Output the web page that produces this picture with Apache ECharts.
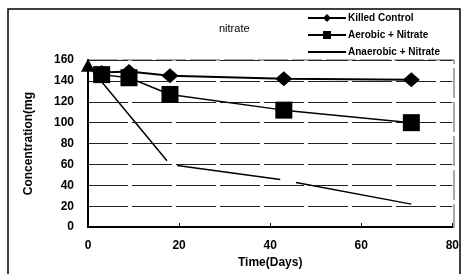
<!DOCTYPE html>
<html>
<head>
<meta charset="utf-8">
<script src="https://cdn.jsdelivr.net/npm/echarts@6/dist/echarts.min.js"></script>
<style>
  html, body { margin: 0; padding: 0; background: #fff; }
  #chart { width: 462px; height: 274px; }
</style>
</head>
<body>
<div id="chart"></div>
<script>
// days and nitrate concentration
const killedDays = [3, 9, 18, 43, 71];
const killedValues = [148, 149, 145, 142, 141];
const aerobicDays = [3, 9, 18, 43, 71];
const aerobicValues = [146, 143, 127, 112, 100];
const anaerobicDays = [0, 18, 43, 71];
const anaerobicValues = [155, 60, 45, 22];
const xTicks = [0, 20, 40, 60, 80];
const yTicks = [0, 20, 40, 60, 80, 100, 120, 140, 160];

const pairs = (xs, ys) => xs.map((x, i) => [x, ys[i]]);
const font = 'Liberation Sans, Arial, sans-serif';

// only the starting point of the anaerobic run carries a marker
const anaerobicData = pairs(anaerobicDays, anaerobicValues).map((p, i) =>
  i === 0 ? { value: p, symbol: 'triangle', symbolSize: [14, 13] } : { value: p, symbol: 'none' });

const chart = echarts.init(document.getElementById('chart'));
chart.setOption({
  animation: false,
  title: {
    text: 'nitrate',
    left: 214,
    top: 18,
    textStyle: { fontFamily: font, fontWeight: 'normal', fontSize: 11, color: '#000' }
  },
  legend: {
    orient: 'vertical',
    left: 302,
    top: 8,
    itemWidth: 38,
    itemHeight: 10,
    itemGap: 7,
    textStyle: { fontFamily: font, fontWeight: 'bold', fontSize: 10, color: '#000', padding: [0, 0, 0, -3] },
    data: [
      'Killed Control',
      'Aerobic + Nitrate',
      { name: 'Anaerobic + Nitrate', itemStyle: { opacity: 0 } }
    ]
  },
  grid: { left: 88, right: 8, top: 60, bottom: 46 },
  xAxis: {
    type: 'value',
    min: xTicks[0],
    max: xTicks[xTicks.length - 1],
    interval: 20,
    name: 'Time(Days)',
    nameLocation: 'middle',
    nameGap: 28,
    nameTextStyle: { fontFamily: font, fontWeight: 'bold', fontSize: 12, color: '#000' },
    axisLine: { lineStyle: { color: '#000', width: 2 } },
    axisTick: { inside: true, length: 4, lineStyle: { color: '#000' } },
    axisLabel: { fontFamily: font, fontWeight: 'bold', fontSize: 12, color: '#000', margin: 13 },
    splitLine: { show: false }
  },
  yAxis: {
    type: 'value',
    min: yTicks[0],
    max: yTicks[yTicks.length - 1],
    interval: 20,
    name: 'Concentration(mg',
    nameLocation: 'middle',
    nameGap: 53,
    nameTextStyle: { fontFamily: font, fontWeight: 'bold', fontSize: 12, color: '#000' },
    axisLine: { show: true, lineStyle: { color: '#000', width: 2 } },
    axisTick: { show: false },
    axisLabel: { fontFamily: font, fontWeight: 'bold', fontSize: 12, color: '#000', margin: 14 },
    splitLine: { lineStyle: { color: '#222', width: 1, type: [40, 4] } }
  },
  graphic: [
    {
      type: 'rect',
      shape: { x: 8, y: 9, width: 452, height: 280 },
      style: { fill: 'none', stroke: '#000', lineWidth: 1.5 }
    },
    {
      type: 'polyline',
      shape: { points: [[88, 60], [454, 60], [454, 228]] },
      style: { fill: 'none', stroke: '#555', lineWidth: 1, lineDash: [30, 4] }
    }
  ],
  series: [
    {
      name: 'Killed Control',
      type: 'line',
      data: pairs(killedDays, killedValues),
      symbol: 'diamond',
      symbolSize: [17, 15],
      itemStyle: { color: '#000' },
      lineStyle: { color: '#000', width: 2 },
      z: 3
    },
    {
      name: 'Aerobic + Nitrate',
      type: 'line',
      data: pairs(aerobicDays, aerobicValues),
      symbol: 'rect',
      symbolSize: 17,
      itemStyle: { color: '#000' },
      lineStyle: { color: '#000', width: 1.5 },
      z: 4
    },
    {
      name: 'Anaerobic + Nitrate',
      type: 'line',
      data: anaerobicData,
      symbol: 'triangle',
      showAllSymbol: true,
      itemStyle: { color: '#000' },
      lineStyle: { color: '#000', width: 1.5, type: [124, 12, 104, 16] },
      z: 2
    }
  ]
});
</script>
</body>
</html>
